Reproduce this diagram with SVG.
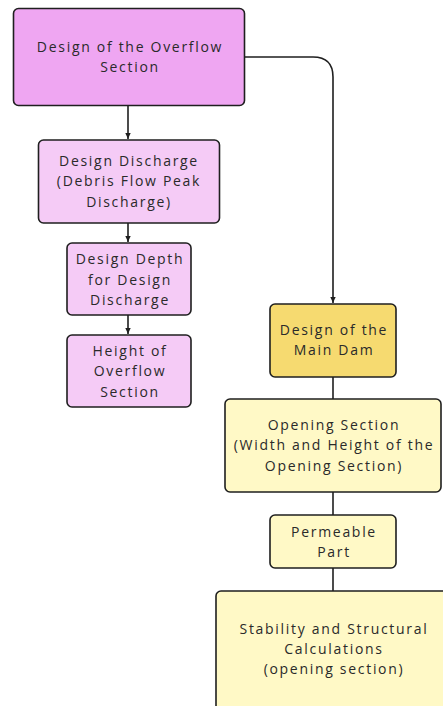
<svg xmlns="http://www.w3.org/2000/svg" width="443" height="706" viewBox="0 0 443 706">
  <style>
    .box { stroke: #1f1f1f; stroke-width: 1.6; }
    .pk1 { fill: #EFA6F2; }
    .pk2 { fill: #F5CBF6; }
    .yl1 { fill: #F6DA70; }
    .yl2 { fill: #FFF9C6; }
    .lbl { font-family: "Open Sans", "Liberation Sans", sans-serif; font-size: 14px; letter-spacing: 1.7px; fill: #2a2a2a; text-anchor: middle; }
    .edge { fill: none; stroke: #1f1f1f; stroke-width: 1.6; }
  </style>
  <defs>
    <marker id="arrow" viewBox="0 0 10 10" refX="9" refY="5" markerWidth="7" markerHeight="7" orient="auto" markerUnits="userSpaceOnUse">
      <path d="M0,1 L9,5 L0,9 z" fill="#1f1f1f"/>
    </marker>
  </defs>

  <g id="connectors">
    <path class="edge" d="M128,105 V139" marker-end="url(#arrow)"/>
    <path class="edge" d="M128,223 V242" marker-end="url(#arrow)"/>
    <path class="edge" d="M128,315 V334" marker-end="url(#arrow)"/>
    <path class="edge" d="M244,57 H313 Q333,57 333,77 V303" marker-end="url(#arrow)"/>
    <path class="edge" d="M333,377 V399"/>
    <path class="edge" d="M333,492 V515"/>
    <path class="edge" d="M333,568 V591"/>
  </g>

  <g id="overflow-section">
    <rect class="box pk1" x="13.5" y="8.5" width="231" height="97" rx="5"/>
    <text class="lbl" x="130" y="52">Design of the Overflow</text>
    <text class="lbl" x="130" y="72">Section</text>
  </g>

  <g id="design-discharge">
    <rect class="box pk2" x="38.5" y="140" width="181" height="83" rx="5"/>
    <text class="lbl" x="129" y="166">Design Discharge</text>
    <text class="lbl" x="129" y="186">(Debris Flow Peak</text>
    <text class="lbl" x="129" y="207">Discharge)</text>
  </g>

  <g id="design-depth">
    <rect class="box pk2" x="67" y="243" width="124" height="72" rx="5"/>
    <text class="lbl" x="130" y="264">Design Depth</text>
    <text class="lbl" x="130" y="285">for Design</text>
    <text class="lbl" x="130" y="305">Discharge</text>
  </g>

  <g id="overflow-height">
    <rect class="box pk2" x="67" y="335" width="124" height="72" rx="5"/>
    <text class="lbl" x="130" y="356">Height of</text>
    <text class="lbl" x="130" y="376">Overflow</text>
    <text class="lbl" x="130" y="397">Section</text>
  </g>

  <g id="main-dam">
    <rect class="box yl1" x="270" y="304" width="126" height="73" rx="5"/>
    <text class="lbl" x="334" y="335">Design of the</text>
    <text class="lbl" x="334" y="355">Main Dam</text>
  </g>

  <g id="opening-section">
    <rect class="box yl2" x="225" y="399" width="216" height="93" rx="5"/>
    <text class="lbl" x="334" y="430">Opening Section</text>
    <text class="lbl" x="334" y="450">(Width and Height of the</text>
    <text class="lbl" x="334" y="471">Opening Section)</text>
  </g>

  <g id="permeable-part">
    <rect class="box yl2" x="270" y="515" width="126" height="53" rx="5"/>
    <text class="lbl" x="334" y="537">Permeable</text>
    <text class="lbl" x="334" y="557">Part</text>
  </g>

  <g id="stability">
    <rect class="box yl2" x="216" y="591" width="240" height="120" rx="5"/>
    <text class="lbl" x="334" y="634">Stability and Structural</text>
    <text class="lbl" x="334" y="654">Calculations</text>
    <text class="lbl" x="334" y="674">(opening section)</text>
  </g>
</svg>
